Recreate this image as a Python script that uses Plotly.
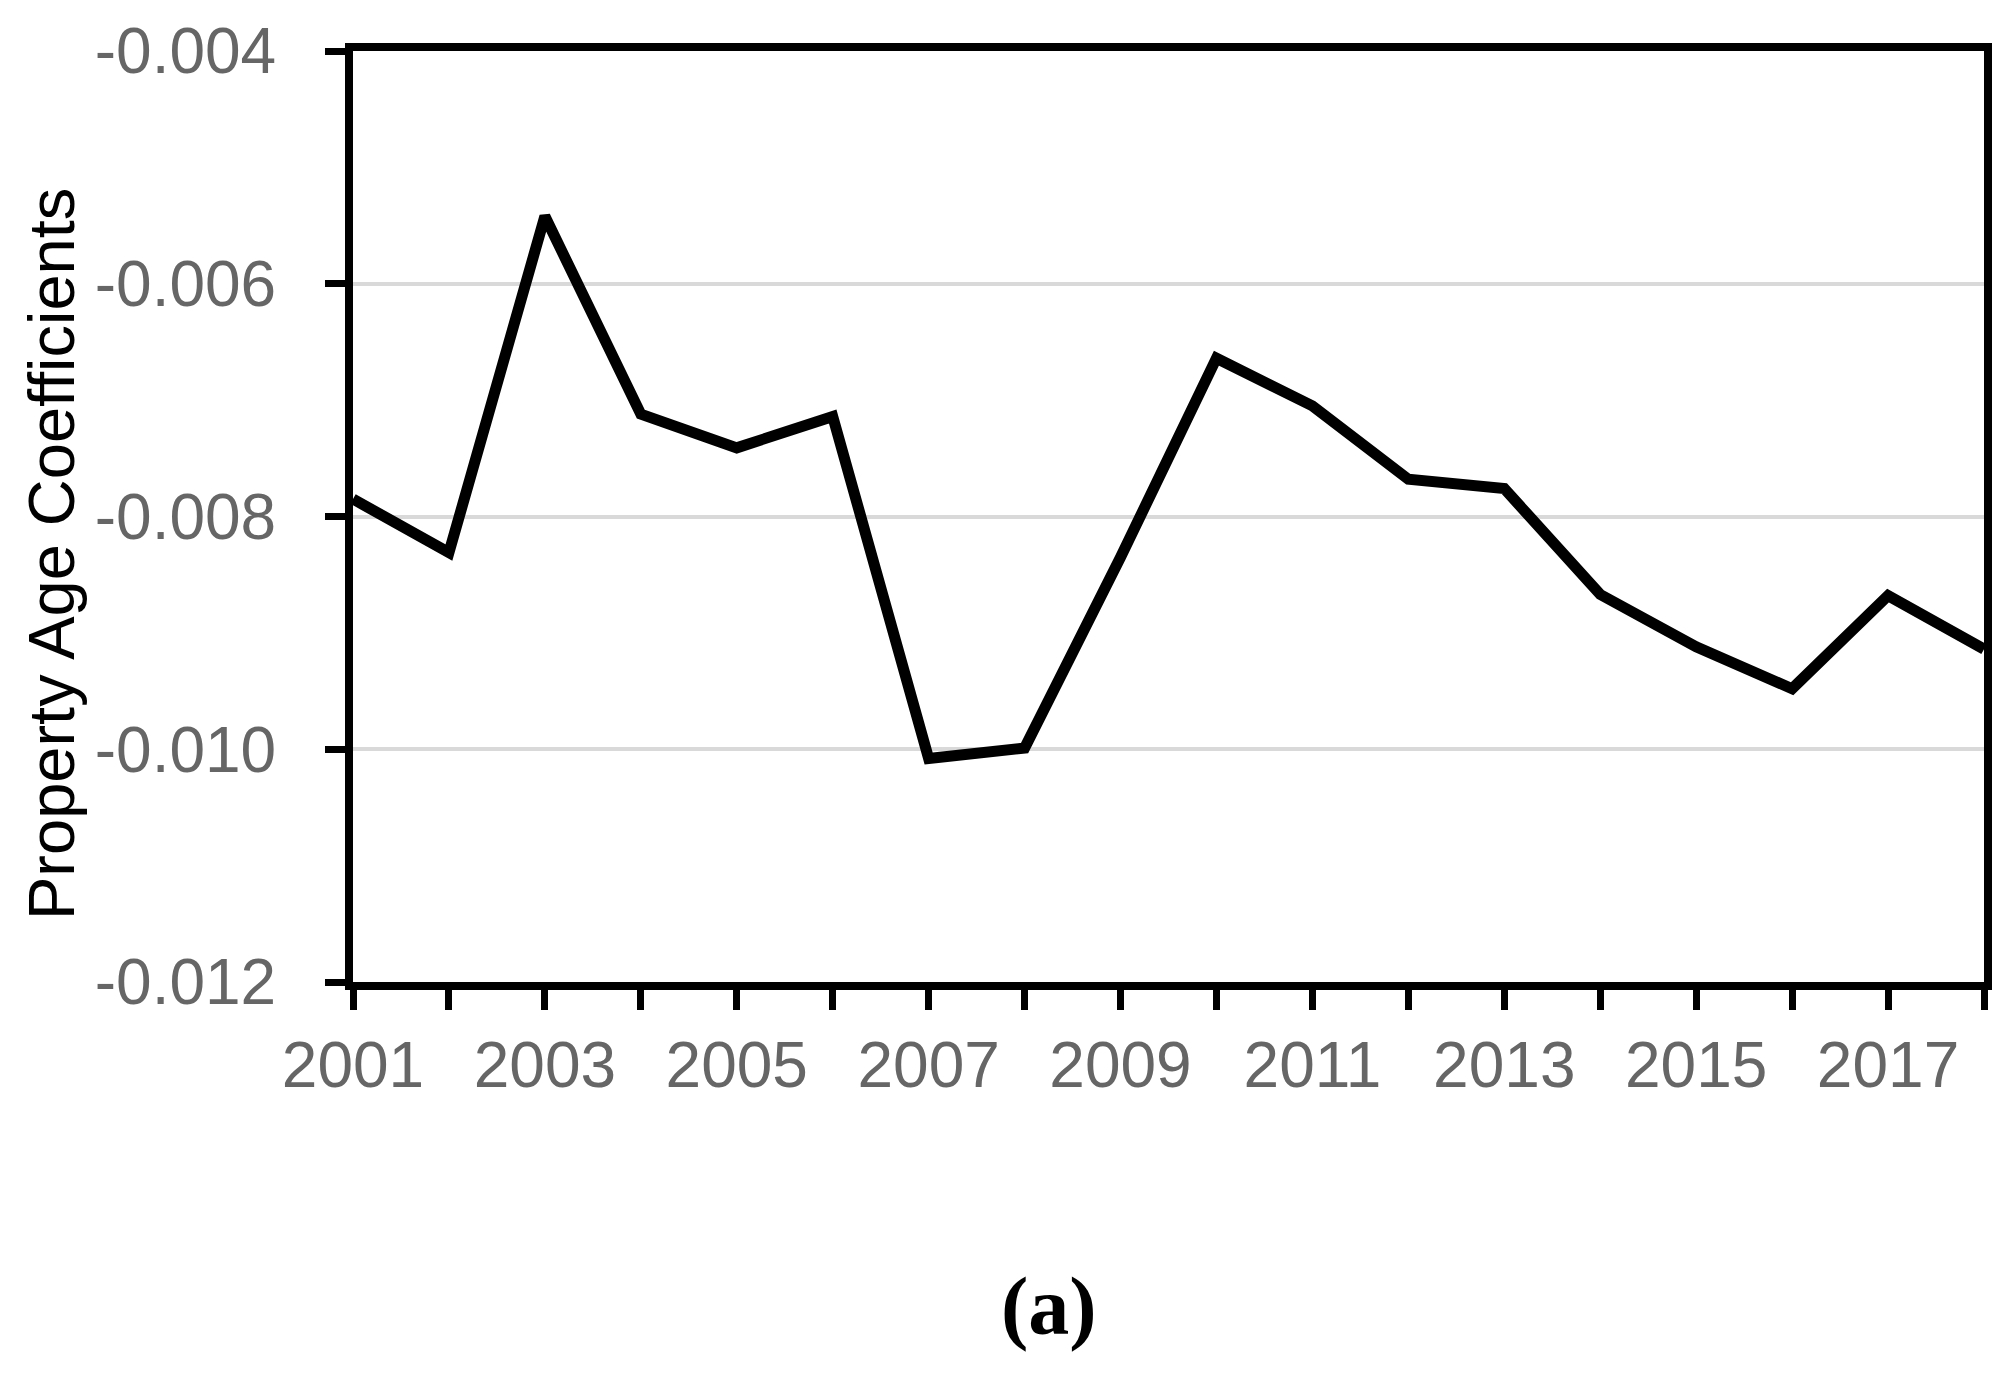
import plotly.graph_objects as go

years = [2001, 2002, 2003, 2004, 2005, 2006, 2007, 2008, 2009,
         2010, 2011, 2012, 2013, 2014, 2015, 2016, 2017, 2018]
coefficients = [-0.00785, -0.00831, -0.00542, -0.00712, -0.00741, -0.00714,
                -0.01008, -0.00999, -0.00835, -0.00664, -0.00705, -0.00768,
                -0.00776, -0.00867, -0.00912, -0.00948, -0.00868, -0.00914]
x_ticks = [2001, 2003, 2005, 2007, 2009, 2011, 2013, 2015, 2017]
y_ticks = [-0.004, -0.006, -0.008, -0.010, -0.012]
y_tick_labels = ["-0.004", "-0.006", "-0.008", "-0.010", "-0.012"]
y_title = "Property Age Coefficients"
panel_label = "(a)"

W, H = 2016, 1378
L, R, T, B = 345, 40, 43, 404
PW, PH = W - L - R, H - T - B


def px_to_paper_x(px):
    return (px - L) / PW


def px_to_paper_y(py):
    return (H - B - py) / PH


tick_font = dict(family="Liberation Sans Narrow, Arial Narrow, Liberation Sans, Arial",
                 size=64, color="#666666")

fig = go.Figure()
fig.add_trace(go.Scatter(
    x=years, y=coefficients, mode="lines",
    line=dict(color="#000000", width=11),
    showlegend=False, hoverinfo="x+y",
))

fig.update_layout(
    width=W, height=H,
    margin=dict(l=L, r=R, t=T, b=B, autoexpand=False),
    paper_bgcolor="white", plot_bgcolor="white",
    xaxis=dict(
        range=[2001, 2018],
        tickmode="array", tickvals=years,
        ticktext=[str(y) if y in x_ticks else "" for y in years],
        ticks="outside", ticklen=20, tickwidth=7, tickcolor="#000000",
        showline=True, linecolor="#000000", linewidth=8, mirror=True,
        showgrid=False, zeroline=False,
        tickfont=tick_font, ticklabelstandoff=0,
    ),
    yaxis=dict(
        range=[-0.012, -0.004],
        tickmode="array", tickvals=y_ticks, ticktext=y_tick_labels,
        ticks="outside", ticklen=20, tickwidth=7, tickcolor="#000000",
        showline=True, linecolor="#000000", linewidth=8, mirror=True,
        showgrid=True, gridcolor="#d9d9d9", gridwidth=4,
        zeroline=False,
        tickfont=tick_font, ticklabelstandoff=36,
    ),
    annotations=[
        dict(
            text=y_title, xref="paper", yref="paper",
            x=px_to_paper_x(43), y=px_to_paper_y(546),
            xanchor="center", yanchor="middle", textangle=-90, showarrow=False,
            font=dict(family="Liberation Sans, Arial", size=65, color="#000000"),
        ),
        dict(
            text="<b>" + panel_label + "</b>", xref="paper", yref="paper",
            x=px_to_paper_x(1041), y=px_to_paper_y(1299),
            xanchor="center", yanchor="middle", showarrow=False,
            font=dict(family="Liberation Serif, Times New Roman, serif", size=82, color="#000000"),
        ),
    ],
)

fig.write_html("out.html")
